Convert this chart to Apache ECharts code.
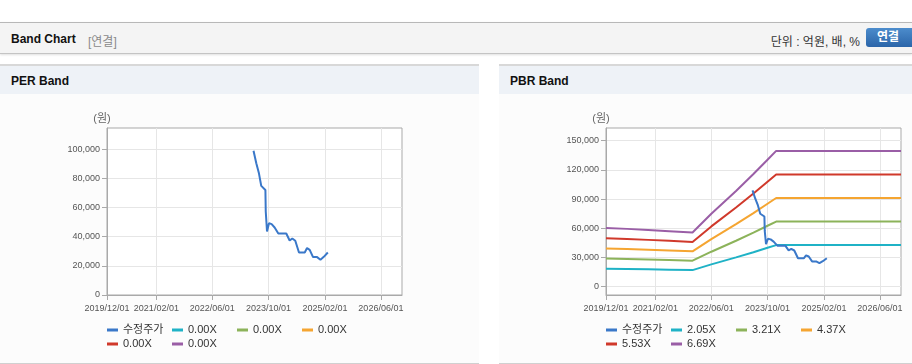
<!DOCTYPE html>
<html>
<head>
<meta charset="utf-8">
<script src="https://cdn.jsdelivr.net/npm/echarts@6/dist/echarts.min.js"></script>
<style>
  html, body { margin: 0; padding: 0; background: #fff; }
  body { width: 912px; height: 364px; position: relative; overflow: hidden;
         font-family: "Liberation Sans", Arial, "Noto Sans CJK KR", sans-serif; }
  #hdr { position: absolute; left: 0; top: 22px; width: 912px; height: 30px;
         background: #f4f4f4; border-top: 1px solid #b8b8b8; border-bottom: 1px solid #c4c4c4;
         box-shadow: 0 1px 2px rgba(0,0,0,0.12); }
  #hdr .t { position: absolute; left: 11px; top: 9px; font-size: 12px; font-weight: bold; color: #111; }
  #hdr .s { position: absolute; left: 88px; top: 9px; font-size: 12px; color: #8a8a8a; }
  #hdr .u { position: absolute; right: 52px; top: 9px; font-size: 12px; color: #333; }
  #hdr .b { position: absolute; left: 866px; top: 5px; width: 52px; height: 19px; border-radius: 3px;
            background: linear-gradient(#4c8ccc, #2b65a9); color: #fff; font-size: 12px; font-weight: bold;
            line-height: 19px; text-indent: 11px; }
  .panel { position: absolute; top: 64px; height: 297px; background: #fcfcfc;
           border-top: 2px solid #d8d8d8; border-bottom: 2px solid #d0d0d0; }
  .panel .ph { position: absolute; left: 0; top: 0; right: 0; height: 28px; background: #eef2f7; }
  .panel .ph span { position: absolute; left: 11px; top: 8px; font-size: 12px; font-weight: bold; color: #111; }
  #p1 { left: 0; width: 479px; }
  #p2 { left: 499px; width: 413px; }
  .chart { position: absolute; top: 93px; height: 269px; }
  #c1 { left: 0; width: 479px; }
  #c2 { left: 499px; width: 413px; }
</style>
</head>
<body>
<div id="hdr"><span class="t">Band Chart</span><span class="s">[연결]</span><span class="u">단위 : 억원, 배, %</span><span class="b">연결</span></div>
<div class="panel" id="p1"><div class="ph"><span>PER Band</span></div></div>
<div class="panel" id="p2"><div class="ph"><span>PBR Band</span></div></div>
<div class="chart" id="c1"></div>
<div class="chart" id="c2"></div>
<script>
// ---- data ----
const xMin = '2019-12-01';
const xMax = '2026-12-01';
const xTickDates = ['2019-12-01', '2021-02-01', '2022-06-01', '2023-10-01', '2025-02-01', '2026-06-01'];

const priceDates = ['2023-05-24','2023-06-17','2023-07-10','2023-07-30','2023-09-04','2023-09-07','2023-09-18',
  '2023-10-05','2023-10-28','2023-11-23','2023-12-25','2024-03-03','2024-04-01','2024-04-24','2024-05-20',
  '2024-06-21','2024-08-10','2024-08-30','2024-09-22','2024-10-21','2024-11-25','2024-12-24','2025-01-22','2025-02-26'];
const priceValues = [99000, 90400, 83500, 74900, 72100, 57300, 43600,
  49300, 48600, 46300, 42200, 42200, 37400, 38800, 37200,
  29200, 29200, 32200, 31000, 26000, 26000, 24200, 26200, 29200];

const bpsDates = ['2019-12-01','2020-06-01','2020-12-01','2021-06-01','2021-12-20','2022-06-01',
  '2023-01-01','2023-06-01','2023-10-01','2023-12-15','2026-12-01'];
const bpsValues = [9000, 8880, 8700, 8520, 8320, 11200, 14700, 17300, 19500, 20850, 20850];

const pbrMultiples = [2.05, 3.21, 4.37, 5.53, 6.69];
const perMultiples = [0, 0, 0, 0, 0];

const perYTicks = [0, 20000, 40000, 60000, 80000, 100000];
const pbrYTicks = [0, 30000, 60000, 90000, 120000, 150000];

const priceName = '수정주가';
const priceColor = '#3a78c9';
const bandColors = ['#1fb2c6', '#8cb35a', '#f5a531', '#d0392b', '#9a5ea6'];

// ---- helpers ----
const FONT = '"Liberation Sans", Arial, "Noto Sans CJK KR", sans-serif';
function ts(s) { const p = s.split('-').map(Number); return new Date(p[0], p[1] - 1, p[2]).getTime(); }
function pad(n) { return (n < 10 ? '0' : '') + n; }
function fmtDate(v) { const d = new Date(v); return d.getFullYear() + '/' + pad(d.getMonth() + 1) + '/' + pad(d.getDate()); }
function fmtNum(v) { return String(Math.round(v)).replace(/\B(?=(\d{3})+(?!\d))/g, ','); }

function buildOption(multiples, bandNames, yMin, yMax, yTicks, withBands) {
  const series = [];
  multiples.forEach((m, i) => {
    series.push({
      name: bandNames[i], type: 'line', showSymbol: false, symbol: 'none',
      color: bandColors[i], lineStyle: { width: 2, color: bandColors[i] },
      data: withBands ? bpsDates.map((d, k) => [ts(d), bpsValues[k] * m]) : [],
      animation: false, z: 2
    });
  });
  series.push({
    name: priceName, type: 'line', showSymbol: false, symbol: 'none',
    color: priceColor, lineStyle: { width: 2, color: priceColor },
    data: priceDates.map((d, k) => [ts(d), priceValues[k]]),
    animation: false, z: 3
  });
  const cols = [[priceName, bandNames[3]], [bandNames[0], bandNames[4]], [bandNames[1]], [bandNames[2]]];
  const colLeft = [107, 172, 237, 302];
  const legends = cols.map((names, i) => ({
    data: names, left: colLeft[i], top: 230, orient: 'vertical', padding: 0,
    itemGap: 0, itemWidth: 11, itemHeight: 3, icon: 'rect', selectedMode: false,
    formatter: n => n.trim(),
    textStyle: { fontSize: 11, color: '#333', fontFamily: FONT, lineHeight: 14 }
  }));
  const xTicks = xTickDates.map(ts);
  return {
    animation: false,
    grid: { left: 107, top: 35, width: 295, height: 167, show: true, borderColor: '#a9a9a9', borderWidth: 1, backgroundColor: '#fff' },
    legend: legends,
    xAxis: {
      type: 'value', min: ts(xMin), max: ts(xMax),
      axisLine: { show: true, onZero: false, lineStyle: { color: '#a9a9a9', width: 1 } },
      axisTick: { show: true, length: 5, lineStyle: { color: '#a9a9a9' }, customValues: xTicks },
      axisLabel: { customValues: xTicks, formatter: v => fmtDate(v), fontSize: 9, color: '#555', fontFamily: FONT, margin: 9, hideOverlap: false },
      splitLine: { show: true, lineStyle: { color: '#e6e6e6', width: 1 } }
    },
    yAxis: {
      type: 'value', min: yMin, max: yMax,
      name: '(원)', nameLocation: 'end', nameGap: 4,
      nameTextStyle: { fontSize: 11, color: '#666', fontFamily: FONT, padding: [0, 10, 0, 0] },
      axisLine: { show: true, onZero: false, lineStyle: { color: '#a9a9a9', width: 1 } },
      axisTick: { show: true, length: 5, lineStyle: { color: '#a9a9a9' }, customValues: yTicks },
      axisLabel: { customValues: yTicks, formatter: v => fmtNum(v), fontSize: 9, color: '#555', fontFamily: FONT, margin: 7 },
      splitLine: { show: true, lineStyle: { color: '#e6e6e6', width: 1 } }
    },
    series: series
  };
}

const perNames = perMultiples.map((m, i) => m.toFixed(2) + 'X' + ' '.repeat(i));
const pbrNames = pbrMultiples.map(m => m.toFixed(2) + 'X');

const c1 = echarts.init(document.getElementById('c1'), null, { renderer: 'canvas' });
c1.setOption(buildOption(perMultiples, perNames, 0, 114600, perYTicks, false));
const c2 = echarts.init(document.getElementById('c2'), null, { renderer: 'canvas' });
c2.setOption(buildOption(pbrMultiples, pbrNames, -8500, 163000, pbrYTicks, true));
</script>
</body>
</html>
